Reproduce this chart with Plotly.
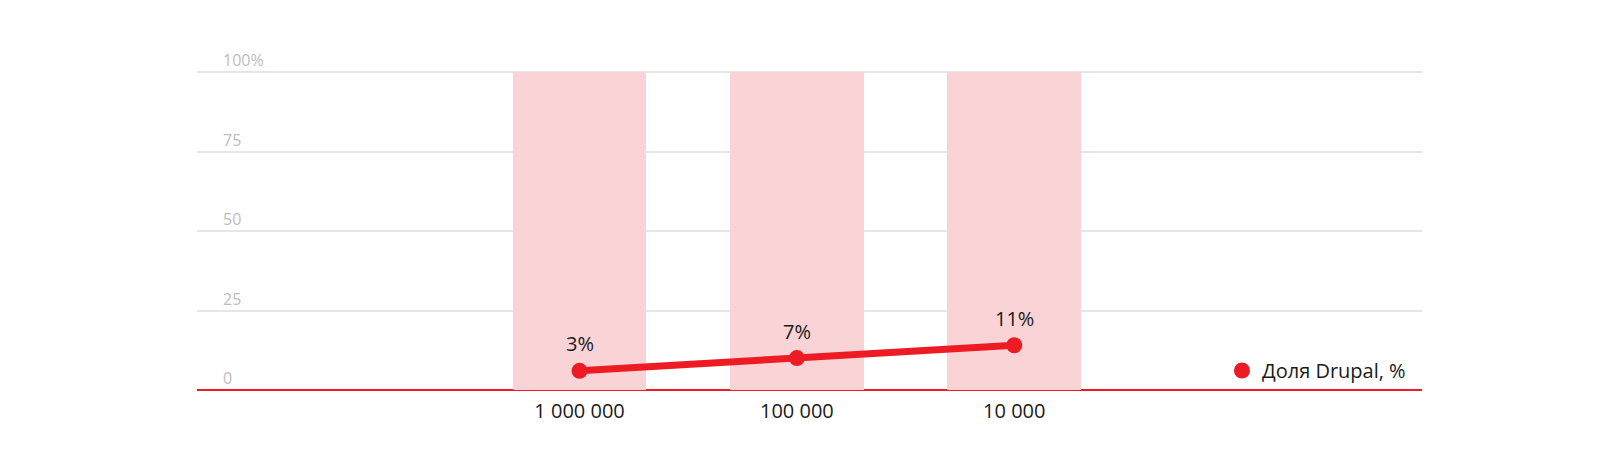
import plotly.graph_objects as go

# categories (site rank buckets) and values
categories = ["1 000 000", "100 000", "10 000"]
background = [100, 100, 100]
drupal_share = [3, 7, 11]
share_labels = ["3%", "7%", "11%"]

y_ticks = [0, 25, 50, 75, 100]
y_tick_labels = ["0", "25", "50", "75", "100%"]

RED = "#ed1c24"
PINK = "#f9d3d5"
FONT = "'Open Sans', Lato, sans-serif"

x = list(range(len(categories)))

fig = go.Figure()

fig.add_trace(go.Bar(
    x=x, y=background,
    marker=dict(color=PINK, line=dict(width=0)),
    width=0.616,
    hoverinfo="skip",
    showlegend=False,
))

# line sits on a hidden secondary axis (offset baseline, as in the original)
fig.add_trace(go.Scatter(
    x=x, y=drupal_share,
    yaxis="y2",
    mode="lines+markers",
    line=dict(color=RED, width=7),
    marker=dict(color=RED, size=16),
    showlegend=False,
))

fig.add_trace(go.Scatter(
    x=[None], y=[None],
    mode="markers",
    marker=dict(color=RED, size=20),
    name="Доля Drupal, %",
))

for xi, yi, label in zip(x, drupal_share, share_labels):
    fig.add_annotation(
        x=xi, y=yi, xref="x", yref="y2",
        text=label, showarrow=False,
        yshift=27,
        font=dict(size=20, color="#1a1a1a", family=FONT),
    )

# y tick labels sit just above their gridlines, a little in from the left
for yv, label in zip(y_ticks, y_tick_labels):
    fig.add_annotation(
        x=0, y=yv, xref="paper", yref="y",
        text=label, showarrow=False,
        xanchor="left", yanchor="bottom",
        xshift=24, yshift=-1,
        font=dict(size=16, color="#bdbdbd", family=FONT),
    )

# the page body has an 8px margin, so margins are shifted to compensate;
# the y range runs a little past 100 so the top gridline is drawn
fig.update_layout(
    width=1600, height=459,
    margin=dict(l=189, r=186, t=45, b=77),
    paper_bgcolor="white",
    plot_bgcolor="white",
    font=dict(family=FONT),
    bargap=0,
    xaxis=dict(
        range=[-1.76, 3.876],
        tickvals=x,
        ticktext=categories,
        tickfont=dict(size=20, color="#1a1a1a"),
        showgrid=False,
        zeroline=False,
        showline=False,
        ticks="",
        ticklabelstandoff=7,
    ),
    yaxis=dict(
        range=[0, 106],
        tickvals=y_ticks,
        showticklabels=False,
        showgrid=True,
        gridcolor="#e6e6e6",
        gridwidth=1.5,
        zeroline=True,
        zerolinecolor=RED,
        zerolinewidth=1.5,
        ticks="",
    ),
    yaxis2=dict(
        range=[-3, 102.5],
        overlaying="y",
        visible=False,
    ),
    legend=dict(
        x=0.991, y=0.0,
        xanchor="right", yanchor="bottom",
        bgcolor="rgba(0,0,0,0)",
        font=dict(size=20, color="#1a1a1a"),
    ),
)

fig.write_html("out.html")
